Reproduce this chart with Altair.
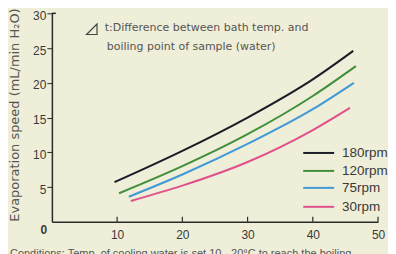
import altair as alt
import pandas as pd

# ---- data ----
series_names = ["180rpm", "120rpm", "75rpm", "30rpm"]
series_colors = ["#1c1c28", "#3f8f3c", "#3f9ad6", "#e0508c"]

x_180 = [9.6, 20.0, 30.0, 40.0, 46.2]
y_180 = [5.7, 10.2, 15.0, 20.5, 24.6]
x_120 = [10.3, 20.0, 30.0, 40.0, 46.6]
y_120 = [4.1, 8.0, 12.6, 18.1, 22.4]
x_75 = [11.8, 20.0, 30.0, 40.0, 46.3]
y_75 = [3.6, 6.8, 11.2, 16.2, 20.0]
x_30 = [12.1, 20.0, 30.0, 40.0, 45.7]
y_30 = [3.0, 5.2, 8.6, 13.2, 16.4]

x_ticks = [10, 20, 30, 40, 50]
y_ticks = [5, 10, 15, 20, 25, 30]

y_title = "Evaporation speed (mL/min H₂O)"
note_line1 = "t:Difference between bath temp. and"
note_line2 = "boiling point of sample (water)"
caption = "Conditions: Temp. of cooling water is set 10 - 20°C to reach the boiling"

# ---- build table ----
rows = []
for name, xs, ys in zip(series_names,
                        [x_180, x_120, x_75, x_30],
                        [y_180, y_120, y_75, y_30]):
    for i, (xv, yv) in enumerate(zip(xs, ys)):
        rows.append({"series": name, "x": xv, "y": yv, "order": i})
df = pd.DataFrame(rows)

W, H = 327, 209
FONT = "Liberation Sans"
WIDE = "DejaVu Sans"
BG = "#efeed8"

xscale = alt.Scale(domain=[0, 50], nice=False, zero=False)
yscale = alt.Scale(domain=[0, 30], nice=False)
cscale = alt.Scale(domain=series_names, range=series_colors)

lines = alt.Chart(df).mark_line(strokeWidth=2, interpolate="monotone").encode(
    x=alt.X("x:Q", scale=xscale,
            axis=alt.Axis(values=x_ticks, title=None, ticks=False, grid=False,
                          labelFlush=False, labelPadding=8, labelFontSize=12,
                          labelColor="#3a3a3a", labelFont=FONT,
                          domainColor="#2a2a2a", domainWidth=1.5)),
    y=alt.Y("y:Q", scale=yscale,
            axis=alt.Axis(values=y_ticks, title=y_title, grid=False,
                          labelFlush=False, labelOffset=2,
                          tickSize=5, tickColor="#2a2a2a", labelPadding=1,
                          labelFontSize=12, labelColor="#3a3a3a", labelFont=FONT,
                          domainColor="#2a2a2a", domainWidth=1.5,
                          titleFont=WIDE, titleFontSize=13, titleFontWeight="normal",
                          titleColor="#555555", titleX=-37, titleY=H / 2 - 3,
                          titleAngle=-90, titleAlign="center", titleBaseline="middle")),
    color=alt.Color("series:N", scale=cscale, legend=None),
    detail="series:N",
    order="order:Q",
)

# inward x ticks
tick_df = pd.DataFrame({"x": x_ticks})
xticks = alt.Chart(tick_df).mark_rule(color="#2a2a2a", strokeWidth=1.2).encode(
    x=alt.X("x:Q", scale=xscale),
    y=alt.value(H), y2=alt.value(H - 5),
)

# corner zero label
zero = alt.Chart(pd.DataFrame({"t": ["0"]})).mark_text(
    font=FONT, fontSize=12, fontWeight="bold", color="#3a3a3a"
).encode(text="t:N", x=alt.value(-8), y=alt.value(H + 8))

# top corner stroke
topbar = alt.Chart(pd.DataFrame({"a": [0]})).mark_rule(color="#2a2a2a", strokeWidth=1.5).encode(
    x=alt.value(0), x2=alt.value(4), y=alt.value(0)
)

# legend drawn manually
leg_df = pd.DataFrame({"series": series_names,
                       "ly": [140, 158, 175, 194]})
leg_lines = alt.Chart(leg_df).mark_rule(strokeWidth=2).encode(
    x=alt.value(252), x2=alt.value(283), y=alt.Y("ly:Q", scale=None),
    color=alt.Color("series:N", scale=cscale, legend=None),
)
leg_text = alt.Chart(leg_df).mark_text(
    align="left", baseline="middle", font=FONT, fontSize=13.5, color="#3a3a3a"
).encode(x=alt.value(291), y=alt.Y("ly:Q", scale=None), text="series:N")

# annotation: right-triangle symbol and text
tri = alt.Chart(pd.DataFrame({"a": [0]})).mark_point(
    shape="M 1 -1 L 1 1 L -1 1 Z", size=110, filled=False,
    stroke="#444444", strokeWidth=1.2, opacity=1
).encode(x=alt.value(40), y=alt.value(16))
note = alt.Chart(pd.DataFrame({"t": [note_line1, note_line2],
                               "ny": [15, 34], "nx": [53, 55]})).mark_text(
    align="left", baseline="middle", font=WIDE, fontSize=11, color="#555555"
).encode(text="t:N", x=alt.X("nx:Q", scale=None), y=alt.Y("ny:Q", scale=None))

cap = alt.Chart(pd.DataFrame({"t": [caption]})).mark_text(
    align="left", baseline="top", font=FONT, fontSize=11, color="#555555"
).encode(text="t:N", x=alt.value(-42), y=alt.value(H + 26))

chart = alt.layer(lines, xticks, zero, topbar, leg_lines, leg_text, tri, note, cap).properties(
    width=W, height=H,
    autosize=alt.AutoSizeParams(type="none"),
    padding={"left": 44, "top": 5, "right": 10, "bottom": 40},
    background=BG,
).configure_view(stroke=None)

chart.save("out.html", embed_options={"renderer": "svg", "actions": False})
